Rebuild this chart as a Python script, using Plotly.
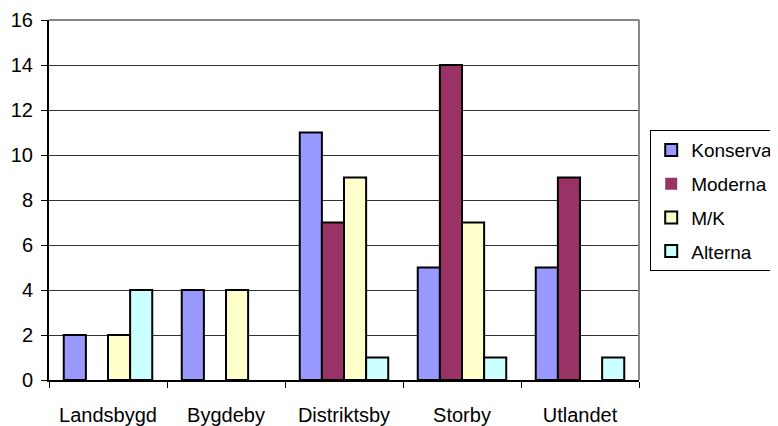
import plotly.graph_objects as go

categories = ["Landsbygd", "Bygdeby", "Distriktsby", "Storby", "Utlandet"]
series_names = ["Konserva", "Moderna", "M/K", "Alterna"]
konserva = [2, 4, 11, 5, 5]
moderna = [0, 0, 7, 14, 9]
mk = [2, 4, 9, 7, 0]
alterna = [4, 0, 1, 1, 1]
y_ticks = [0, 2, 4, 6, 8, 10, 12, 14, 16]

colors = ["#9999FF", "#993366", "#FFFFCC", "#CCFFFF"]
values = [konserva, moderna, mk, alterna]

FONT = "Liberation Sans, Arial, sans-serif"

fig = go.Figure()
for i, (name, vals) in enumerate(zip(series_names, values)):
    fig.add_trace(go.Bar(
        x=categories, y=vals, name=name, legendgroup=name,
        marker=dict(color=colors[i],
                    line=dict(color="black", width=[0 if v == 0 else 2 for v in vals])),
    ))

# page has an 8px body margin, so the figure is sized/offset to compensate
fig.update_layout(
    width=770, height=418,
    margin=dict(l=41, r=139, t=12, b=46, autoexpand=False),
    paper_bgcolor="white", plot_bgcolor="white",
    font=dict(family=FONT, size=20, color="black"),
    barmode="group", bargap=0.25, bargroupgap=0,
    showlegend=True,
    legend=dict(
        x=1.019, y=0.694, xanchor="left", yanchor="top",
        bordercolor="black", borderwidth=1, bgcolor="white",
        font=dict(family=FONT, size=19, color="black"),
        traceorder="grouped", tracegroupgap=6,
        itemwidth=30,
    ),
    xaxis=dict(
        showline=True, linecolor="black", linewidth=2,
        ticks="outside", ticklen=6, tickcolor="black", tickwidth=1,
        tickson="boundaries", showgrid=False,
        ticklabelstandoff=16,
    ),
    yaxis=dict(
        range=[0, 16], tickvals=y_ticks,
        showline=True, linecolor="black", linewidth=2,
        ticks="outside", ticklen=6, tickcolor="black", tickwidth=1,
        showgrid=True, gridcolor="#333333", gridwidth=1,
        zeroline=False, ticklabelstandoff=4,
    ),
    shapes=[
        dict(type="line", xref="paper", yref="paper", x0=0, x1=1, y0=1, y1=1,
             line=dict(color="#888888", width=2), layer="above"),
        dict(type="line", xref="paper", yref="paper", x0=1, x1=1, y0=0, y1=1,
             line=dict(color="#888888", width=2), layer="above"),
    ],
)

fig.write_html("out.html")
